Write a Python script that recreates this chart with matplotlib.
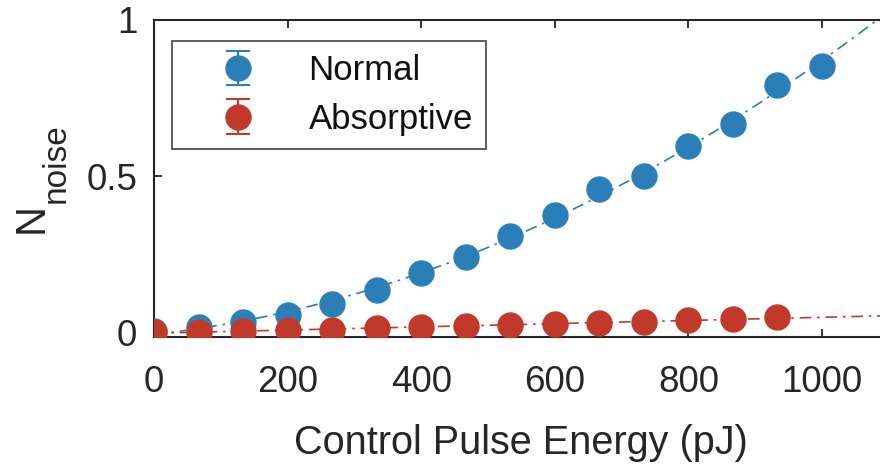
import numpy as np
import matplotlib
matplotlib.use("Agg")
import matplotlib.pyplot as plt

plt.rcParams['font.family'] = ['Liberation Sans', 'DejaVu Sans']

# control pulse energy (pJ)
energy = [0, 66.7, 133.3, 200, 266.7, 333.3, 400, 466.7, 533.3, 600,
          666.7, 733.3, 800, 866.7, 933.3, 1000]
normal = [0.005, 0.016, 0.032, 0.055, 0.09, 0.135, 0.188, 0.242, 0.307,
          0.374, 0.457, 0.5, 0.597, 0.667, 0.793, 0.853]
normal_err = [0.0] * len(normal)

energy_abs = energy[:15]
absorptive = [0.0, 0.002, 0.004, 0.006, 0.008, 0.012, 0.015, 0.019, 0.022,
              0.025, 0.029, 0.033, 0.038, 0.043, 0.048]
absorptive_err = [0.0] * len(absorptive)

blue = '#2b7fb9'
red = '#c1392b'
ink = '#262626'

fig = plt.figure(figsize=(8.8, 4.65), dpi=100)
ax = fig.add_axes([0.175, 0.275, 0.835, 0.682])

# fit curves (quadratic for normal, linear for absorptive)
xfit = np.linspace(0, 1100, 200)
p_n = np.polyfit(energy, normal, 2)
p_a = np.polyfit(energy_abs, absorptive, 1)
dashdot = (0, (7, 3.5, 1.5, 3.5))
ax.plot(xfit, np.polyval(p_n, xfit), color=blue, lw=1.2, ls=dashdot, zorder=1)
ax.plot(xfit, np.polyval(p_a, xfit), color=red, lw=1.2, ls=dashdot, zorder=1)

ax.errorbar(energy, normal, yerr=normal_err, fmt='o', color=blue, ms=18,
            capsize=8.3, elinewidth=1.5, capthick=1.5, label='Normal', zorder=3)
ax.errorbar(energy_abs, absorptive, yerr=absorptive_err, fmt='o', color=red,
            ms=18, capsize=8.3, elinewidth=1.5, capthick=1.5,
            label='Absorptive', zorder=4)

ax.set_xlim(0, 1100)
ax.set_ylim(-0.016, 1)
ax.set_xticks([0, 200, 400, 600, 800, 1000])
ax.set_yticks([0, 0.5, 1])
ax.set_yticklabels(['0', '0.5', '1'])
ax.tick_params(direction='in', length=6, width=1.3, colors=ink,
               labelsize=26.5, top=True, right=True)
ax.tick_params(axis='x', pad=20)
ax.tick_params(axis='y', pad=12)
for s in ax.spines.values():
    s.set_linewidth(1.5)
    s.set_color(ink)

ax.set_xlabel('Control Pulse Energy (pJ)', fontsize=28.5, color=ink,
              labelpad=17)

# y label: N with a large subscript, drawn as two rotated texts
fig.text(43 / 880, 1 - 233 / 465, 'N', rotation=90, rotation_mode='anchor',
         ha='left', va='baseline', fontsize=30, color=ink)
fig.text(65 / 880, 1 - 203 / 465, 'noise', rotation=90, rotation_mode='anchor',
         ha='left', va='baseline', fontsize=24, color=ink)

leg = ax.legend(loc='upper left', bbox_to_anchor=(0.0245, 0.934), fontsize=25,
                frameon=True, fancybox=False, borderaxespad=0,
                handlelength=3.05, handletextpad=0.5, borderpad=0.38,
                labelspacing=0.45)
leg.get_frame().set_edgecolor(ink)
leg.get_frame().set_linewidth(1.3)
for t in leg.get_texts():
    t.set_color('#111111')

fig.savefig('out.png', dpi=100)
